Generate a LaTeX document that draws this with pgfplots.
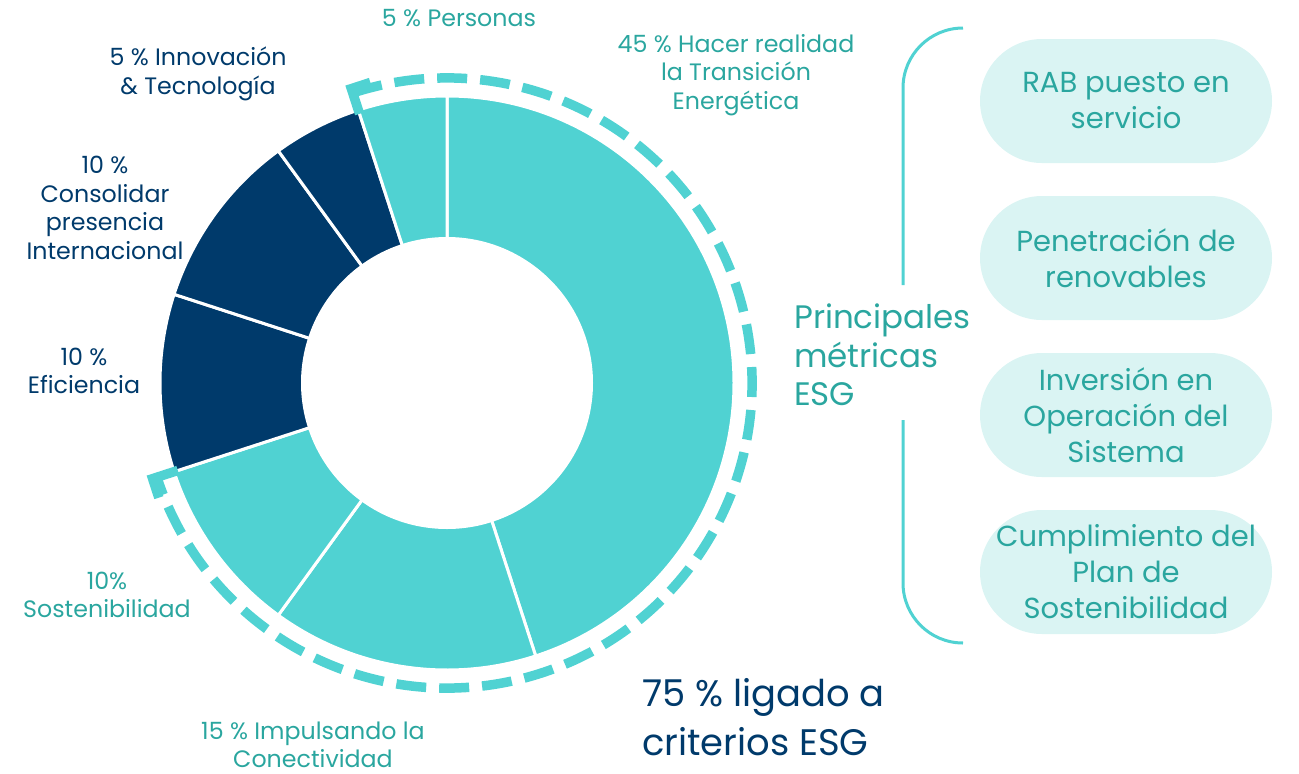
\documentclass[border=0pt]{standalone}
\usepackage{fontspec}
\setmainfont{Poppins}
\usepackage{pgfplots}
\usepackage{pgfplotstable}
\pgfplotsset{compat=1.18}

\definecolor{slice}{HTML}{50D2D2}
\definecolor{navy}{HTML}{003A6B}
\definecolor{tealtxt}{HTML}{2AA69F}
\definecolor{pill}{HTML}{DAF4F3}

% shares clockwise from 12 o'clock
\pgfplotstableread{
share col
45 slice
15 slice
10 slice
10 navy
10 navy
5  navy
5  slice
}\shares

\begin{document}
\begin{tikzpicture}
\begin{axis}[
  x=0.2mm, y=0.2mm, y dir=reverse,
  xmin=0, xmax=1299, ymin=0, ymax=774,
  hide axis, clip=false, scale only axis
]
\def\Ro{57.4mm}\def\Ri{29.2mm}
\pgfplotstablegetrowsof{\shares}
\pgfmathtruncatemacro\nrows{\pgfplotsretval-1}
\xdef\acc{90}
\pgfplotsforeachungrouped \i in {0,...,\nrows}{%
  \pgfplotstablegetelem{\i}{share}\of{\shares}\let\v\pgfplotsretval
  \pgfplotstablegetelem{\i}{col}\of{\shares}\let\c\pgfplotsretval
  \pgfmathsetmacro\aend{\acc-3.6*\v}
  \edef\cmd{\noexpand\filldraw[fill=\c, draw=white, line width=0.6mm]
    (axis cs:447,383) -- ++(\acc:\Ro) arc[start angle=\acc, end angle=\aend, radius=\Ro] -- cycle;}
  \cmd
  \xdef\acc{\aend}
}
\fill[white] (axis cs:447,383) circle[radius=\Ri];

% dashed bracket round the ESG share (75 %)
\draw[slice, line width=1.9mm, dash pattern=on 6mm off 2.6mm]
  (axis cs:447,383) ++(108:61mm)
  arc[start angle=108, end angle=-162, radius=61mm];
\draw[slice, line width=1.9mm]
  (axis cs:447,383) ++(108:56.6mm) -- ++(108:5.3mm) -- ++(18:4mm);
\draw[slice, line width=1.9mm]
  (axis cs:447,383) ++(-162:56.6mm) -- ++(-162:5.3mm) -- ++(-72:4mm);

% slice labels
\begin{scope}[every node/.style={align=center, font=\fontsize{13.5}{16.2}\selectfont}]
\node[tealtxt] at (axis cs:459,18) {5 \% Personas};
\node[tealtxt] at (axis cs:736,75) {45 \% Hacer realidad\\la Transición\\Energética};
\node[navy] at (axis cs:198,74) {5 \% Innovación\\\& Tecnología};
\node[navy] at (axis cs:105,208) {10 \%\\Consolidar\\presencia\\Internacional};
\node[navy] at (axis cs:84,371) {10 \%\\Eficiencia};
\node[tealtxt] at (axis cs:107,595) {10\%\\Sostenibilidad};
\node[tealtxt] at (axis cs:313,745) {15 \% Impulsando la\\Conectividad};
\end{scope}

\node[navy, anchor=west, align=left, font=\fontsize{21}{28}\selectfont]
  at (axis cs:636,717) {75 \% ligado a\\criterios ESG};
\node[tealtxt, anchor=west, align=left, font=\fontsize{18.5}{21.8}\selectfont]
  at (axis cs:788,355) {Principales\\métricas\\ESG};

% side bracket
\draw[slice, line width=0.6mm] (axis cs:963,28) arc[start angle=90, end angle=180, radius=12mm]
  -- (axis cs:903,285);
\draw[slice, line width=0.6mm] (axis cs:903,420) -- (axis cs:903,583)
  arc[start angle=180, end angle=270, radius=12mm];

% metric pills
\begin{scope}[every node/.style={fill=pill, text=tealtxt, align=center,
  minimum width=58.4mm, minimum height=24.8mm, rounded corners=12.4mm,
  inner sep=0pt, font=\fontsize{16.5}{20.5}\selectfont}]
\node at (axis cs:1126,101) {RAB puesto en\\servicio};
\node at (axis cs:1126,258) {Penetración de\\renovables};
\node at (axis cs:1126,415) {Inversión en\\Operación del\\Sistema};
\node at (axis cs:1126,572) {Cumplimiento del\\Plan de\\Sostenibilidad};
\end{scope}
\end{axis}
\pgfresetboundingbox
\path (current axis.south west) rectangle (current axis.north east);
\end{tikzpicture}
\end{document}
